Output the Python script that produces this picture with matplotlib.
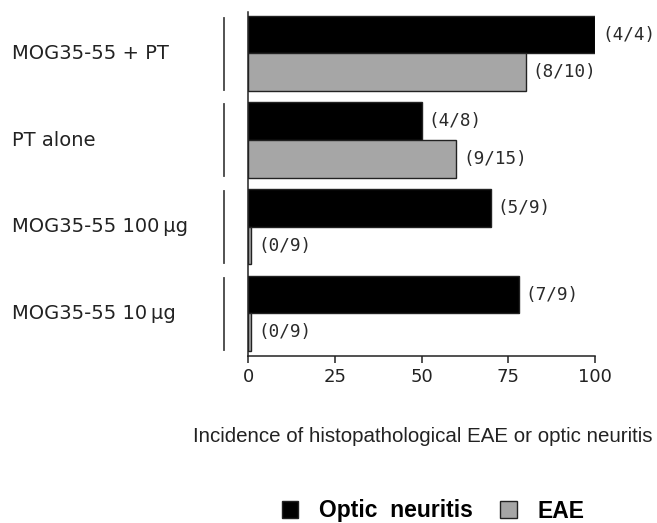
import matplotlib
matplotlib.use("Agg")
import matplotlib.pyplot as plt
import numpy as np
from matplotlib.patches import Patch
from matplotlib.transforms import blended_transform_factory

groups = ["MOG35-55 + PT", "PT alone", "MOG35-55 100\u2009\u03bcg", "MOG35-55 10\u2009\u03bcg"]
optic_neuritis = [100, 50, 70, 78]
eae = [80, 60, 0, 0]
optic_labels = ["(4/4)", "(4/8)", "(5/9)", "(7/9)"]
eae_labels = ["(8/10)", "(9/15)", "(0/9)", "(0/9)"]
x_ticks = [0, 25, 50, 75, 100]

BLACK = "#000000"
GRAY = "#a6a6a6"
bar_h = 0.433

fig = plt.figure(figsize=(6.57, 5.23), dpi=100)
ax = fig.add_axes([248 / 657, 1 - 356 / 523, 347 / 657, 344 / 523])

y = np.arange(len(groups))
# zero-incidence bars are still drawn as a hairline stub in the original
eae_drawn = np.maximum(eae, 1)
b1 = ax.barh(y - bar_h / 2, optic_neuritis, height=bar_h, color=BLACK,
             edgecolor="#222222", linewidth=1)
b2 = ax.barh(y + bar_h / 2, eae_drawn, height=bar_h, color=GRAY,
             edgecolor="#222222", linewidth=1)

for bars, labels in ((b1, optic_labels), (b2, eae_labels)):
    for bar, lab in zip(bars, labels):
        ax.annotate(lab, (bar.get_width(), bar.get_y() + bar.get_height() / 2),
                    xytext=(5, 0), textcoords="offset points", ha="left",
                    va="center", fontsize=12.7, family="DejaVu Sans Mono",
                    color="#2a2a2a")

ax.set_xlim(0, 100)
ax.set_ylim(3.49, -0.476)
ax.set_xticks(x_ticks)
ax.set_xticklabels([str(t) for t in x_ticks], fontsize=13, color="#222222")
ax.tick_params(axis="x", length=5, width=1.1, pad=4, colors="#222222")
ax.tick_params(axis="y", left=False, labelleft=False)
for side in ("top", "right"):
    ax.spines[side].set_visible(False)
for side in ("left", "bottom"):
    ax.spines[side].set_linewidth(1.1)
    ax.spines[side].set_color("#222222")

trans = blended_transform_factory(ax.transAxes, ax.transData)
for i, name in enumerate(groups):
    ax.plot([-0.069, -0.069], [i - 0.41, i + 0.42], transform=trans,
            color="#444444", lw=1.3, clip_on=False)
    ax.text(-(248 - 12) / 347, i, name, transform=trans, ha="left",
            va="center", fontsize=14, color="#222222")

fig.text(423 / 657, 1 - 437 / 523,
         "Incidence of histopathological EAE or optic neuritis",
         ha="center", va="center", fontsize=14.8, family="Liberation Sans",
         color="#222222")

handles = [Patch(facecolor=BLACK, edgecolor="#222222", label="Optic  neuritis"),
           Patch(facecolor=GRAY, edgecolor="#222222", label="EAE")]
fig.legend(handles=handles, loc="center", bbox_to_anchor=(433 / 657, 12 / 523),
           ncol=2, frameon=False, handlelength=0.72, handleheight=0.72,
           handletextpad=0.9, columnspacing=1.2,
           prop={"family": "Liberation Sans", "weight": "bold", "size": 16.5})

fig.savefig("out.png", dpi=100)
